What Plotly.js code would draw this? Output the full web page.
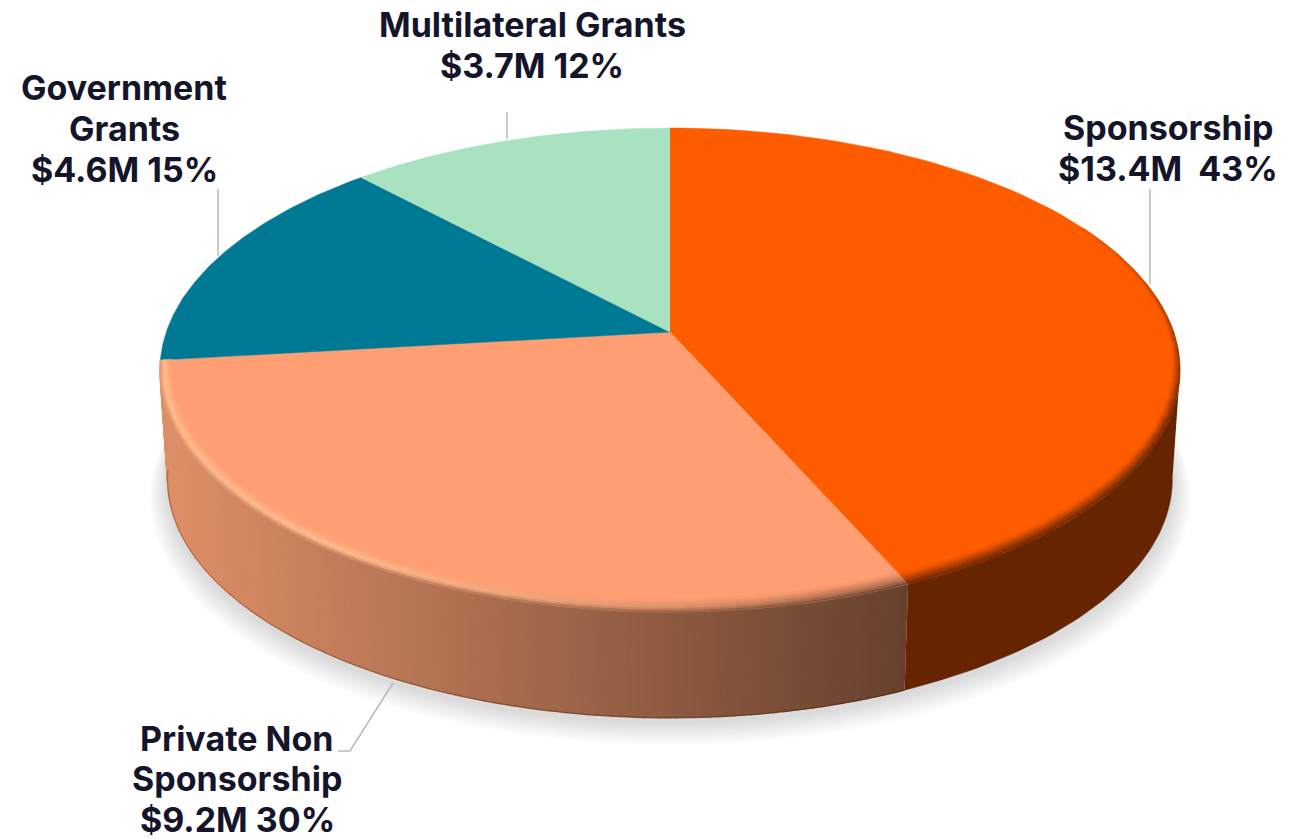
<!DOCTYPE html>
<html><head><meta charset="utf-8">
<script src="https://cdn.plot.ly/plotly-3.0.1.min.js"></script>
<style>html,body{margin:0;padding:0;background:#fff;overflow:hidden}</style>
</head><body><div id="chart" style="width:1310px;height:839px"></div>
<script>
const categories = ["Sponsorship", "Private Non Sponsorship", "Government Grants", "Multilateral Grants"];
const amounts = [13.4, 9.2, 4.6, 3.7];
const percents = [43, 30, 15, 12];
const topColors = ["#FF5C00", "#FF9E72", "#007A94", "#A8E2C1"];

// projection of the tilted disc
const CX = 670, CY = 332, A = 503.7, B = 236, K = 0.157, SCALE = 0.985, DROP = 110;
const rad = d => d * Math.PI / 180;
function topPt(deg, r) {
  const u = r * Math.sin(rad(deg)), v = r * Math.cos(rad(deg)), w = 1 + K * v;
  return [CX + A * u / w, CY - B * v / w];
}
function botPt(deg) {
  const p = topPt(deg, 1);
  return [CX + SCALE * (p[0] - CX), CY + SCALE * (p[1] - CY) + DROP];
}
const rgb = h => [1, 3, 5].map(i => parseInt(h.substr(i, 2), 16));
const mix = (a, b, t) => a.map((c, i) => c + (b[i] - c) * t);
const css = c => `rgb(${c.map(Math.round).join(",")})`;
const clamp = t => Math.max(0, Math.min(1, t));

const total = amounts.reduce((s, v) => s + v, 0);
const edges = [0];
amounts.forEach(v => edges.push(edges[edges.length - 1] + v / total * 360));

const traces = [];
function poly(pts, color, lw) {
  traces.push({
    type: "scatter", mode: "lines", x: pts.map(p => p[0]), y: pts.map(p => p[1]),
    fill: "toself", fillcolor: color, line: { color: lw ? color : "rgba(0,0,0,0)", width: lw || 0 },
    hoverinfo: "skip", showlegend: false
  });
}
function arc(fn, a, b, n) {
  const out = [];
  for (let i = 0; i <= n; i++) out.push(fn(a + (b - a) * i / n));
  return out;
}

// soft ground shadow
for (let i = 0; i < 9; i++) {
  const grow = 1 + (9 - i) * 0.004, off = 4 + (9 - i) * 1.6;
  const ring = arc(d => {
    const p = botPt(d);
    return [CX + (p[0] - CX) * grow, 479 + (p[1] - 479) * grow + off];
  }, 0, 360, 180);
  poly(ring, "rgba(0,0,0,0.014)");
}

// side walls
const wallDark = rgb("#662500");
const wallLeft = rgb("#DE8F67"), wallRight = rgb("#67412E");
const wallAt = d => mix(wallLeft, wallRight, clamp((165 - topPt(d, 1)[0]) / (165 - 905)));
const silhouette = Math.acos(-K) * 180 / Math.PI;
poly(arc(d => topPt(d, 1), silhouette, edges[1], 60).concat(arc(botPt, edges[1], silhouette, 60)), css(wallDark));
const FINE = 0.8;
for (let a = edges[1]; a < edges[2] - 1e-6; a += FINE) {
  const b = Math.min(a + FINE, edges[2]);
  poly([topPt(a, 1), topPt(b, 1), botPt(b), botPt(a)], css(wallAt((a + b) / 2)), 1.4);
}
// thin dark lower edge of the wall
const lowEdge = arc(botPt, silhouette, edges[2], 120);
traces.push({ type: "scatter", mode: "lines", hoverinfo: "skip", showlegend: false,
  x: lowEdge.map(p => p[0]), y: lowEdge.map(p => p[1]),
  line: { color: "rgba(50,20,5,0.35)", width: 1 } });

// top slices
amounts.forEach((v, i) => {
  const pts = [topPt(0, 0)].concat(arc(d => topPt(d, 1), edges[i], edges[i + 1], 90));
  poly(pts, topColors[i], 0.5);
});

// bevel along the front rim
const RINGS = 6;
const peach = rgb(topColors[1]), orange = rgb(topColors[0]), glow = rgb("#FFBE90");
function ringBand(a, b, w, colorAt) {
  for (let j = 0; j < RINGS; j++) {
    const r0 = 1 - w * j / RINGS, r1 = 1 - w * (j + 1) / RINGS;
    poly(arc(d => topPt(d, r0), a, b, 3).concat(arc(d => topPt(d, r1), b, a, 3)), css(colorAt((j + 0.5) / RINGS)), 0.6);
  }
}
for (let a = 62; a < edges[1] - 1e-6; a += 4) {
  const b = Math.min(a + 4, edges[1]), m = (a + b) / 2;
  const w = 0.012 + 0.024 * clamp((m - 90) / 60);
  const g = 0.08 + 0.92 * clamp((m - 62) / 48);
  const outer = mix(orange, wallDark, g);
  ringBand(a, b, w, t => mix(outer, orange, t));
}
const STEP = 2.5;
for (let a = edges[1]; a < edges[2] - 1e-6; a += STEP) {
  const b = Math.min(a + STEP, edges[2]), m = (a + b) / 2;
  const w = 0.04 - 0.017 * clamp((m - 190) / 70);
  const h = clamp((m - 165) / 50);
  const wall = wallAt(m);
  const mid = mix(mix(wall, peach, 0.5), glow, h);
  ringBand(a, b, w, t => t < 0.35 ? mix(wall, mid, t / 0.35) : mix(mid, peach, (t - 0.35) / 0.65));
}

const labelFamily = "Inter, 'Noto Sans', sans-serif";
const labelLines = [
  ["Sponsorship", "$13.4M\u00a0\u00a043%"],
  ["Private Non", "Sponsorship", "$9.2M 30%"],
  ["Government", "Grants", "$4.6M 15%"],
  ["Multilateral Grants", "$3.7M 12%"]
];
const labelX = [1168, 237, 124, 532];
const labelTop = [127, 738, 87.5, 24.5];
const labelGap = [41, 40.5, 41, 41];
const annotations = [];
labelLines.forEach((lines, i) => lines.forEach((text, j) => annotations.push({
  xref: "x", yref: "y", x: labelX[i], y: labelTop[i] + j * labelGap[i], text: "<b>" + text + "</b>", showarrow: false,
  xanchor: "center", yanchor: "middle", align: "center",
  font: { family: labelFamily, size: 34, color: "#14152B" }
})));
const leader = { color: "#B9B9B9", width: 1.5 };
const shapes = [
  "M1150,189 L1150,284", "M218,189 L218,256", "M507,112 L507,139", "M393,683 L350,751 L338,751"
].map(path => ({ type: "path", xref: "x", yref: "y", path, line: leader }));

Plotly.newPlot("chart", traces, {
  width: 1310, height: 839, margin: { l: 0, r: 0, t: 0, b: 0 },
  paper_bgcolor: "#fff", plot_bgcolor: "#fff", showlegend: false, hovermode: false,
  xaxis: { range: [0, 1310], visible: false, fixedrange: true },
  yaxis: { range: [839, 0], visible: false, fixedrange: true },
  annotations, shapes
}, { displayModeBar: false, staticPlot: true });
</script></body></html>
